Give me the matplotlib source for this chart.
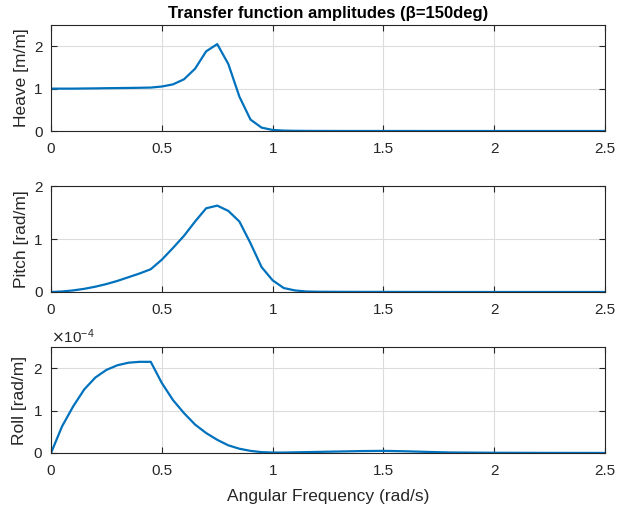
import numpy as np
import matplotlib
matplotlib.use("Agg")
import matplotlib.pyplot as plt

plt.rcParams['font.family'] = ['Liberation Sans', 'DejaVu Sans']

# angular frequency (rad/s)
w = [0, 0.05, 0.1, 0.15, 0.2, 0.25, 0.3, 0.35, 0.4, 0.45, 0.5, 0.55, 0.6, 0.65,
     0.7, 0.75, 0.8, 0.85, 0.9, 0.95, 1.0, 1.05, 1.1, 1.15, 1.2, 1.3, 1.4, 1.5,
     1.6, 1.7, 1.8, 2.0, 2.25, 2.5]
heave = [1.0, 1.0, 1.0, 1.003, 1.006, 1.01, 1.013, 1.016, 1.02, 1.025, 1.05, 1.10,
         1.22, 1.47, 1.88, 2.05, 1.58, 0.81, 0.27, 0.08, 0.025, 0.01, 0.005, 0.003,
         0.002, 0.001, 0.001, 0.001, 0.001, 0, 0, 0, 0, 0]
pitch = [0, 0.01, 0.03, 0.06, 0.10, 0.15, 0.21, 0.28, 0.35, 0.43, 0.61, 0.83, 1.06,
         1.33, 1.58, 1.63, 1.53, 1.33, 0.92, 0.47, 0.22, 0.075, 0.03, 0.01, 0.005,
         0.003, 0.002, 0.002, 0.001, 0.001, 0, 0, 0, 0]
roll = [0, 0.63e-4, 1.1e-4, 1.5e-4, 1.78e-4, 1.96e-4, 2.07e-4, 2.13e-4, 2.15e-4,
        2.15e-4, 1.65e-4, 1.25e-4, 0.94e-4, 0.67e-4, 0.47e-4, 0.31e-4, 0.18e-4,
        0.10e-4, 0.05e-4, 0.02e-4, 0.01e-4, 0.01e-4, 0.015e-4, 0.02e-4, 0.025e-4,
        0.035e-4, 0.045e-4, 0.05e-4, 0.04e-4, 0.025e-4, 0.012e-4, 0.005e-4,
        0.002e-4, 0.001e-4]

xticks = [0, 0.5, 1, 1.5, 2, 2.5]
xtick_labels = ['0', '0.5', '1', '1.5', '2', '2.5']

fig = plt.figure(figsize=(6.17, 5.13), dpi=100)
left, width, height = 0.0827, 0.898, 0.2066
bottoms = [0.7446, 0.4308, 0.117]
ylabels = ['Heave [m/m]', 'Pitch [rad/m]', 'Roll [rad/m]']
series = [heave, pitch, roll]
ylims = [(0, 2.5), (0, 2), (0, 2.5e-4)]
yticks = [[0, 1, 2], [0, 1, 2], [0, 1e-4, 2e-4]]

axes = []
for i in range(3):
    ax = fig.add_axes([left, bottoms[i], width, height])
    ax.plot(w, series[i], color='#0072BD', lw=1.6)
    ax.set_xlim(0, 2.5)
    ax.set_ylim(*ylims[i])
    ax.set_xticks(xticks)
    ax.set_xticklabels(xtick_labels)
    ax.set_yticks(yticks[i])
    ax.set_ylabel(ylabels[i], fontsize=12.5, color='#262626', labelpad=4)
    ax.grid(True, color='#dcdcdc', lw=0.8)
    ax.tick_params(direction='in', top=True, right=True, labelsize=11,
                   colors='#262626', length=4, width=0.8, pad=6)
    ax.tick_params(axis='x', pad=8)
    for s in ax.spines.values():
        s.set_color('#262626')
        s.set_linewidth(0.8)
    axes.append(ax)

axes[2].ticklabel_format(axis='y', style='sci', scilimits=(0, 0), useMathText=True)
axes[2].yaxis.get_offset_text().set_fontsize(11)
axes[2].set_xlabel('Angular Frequency (rad/s)', fontsize=12.5, color='#262626',
                   labelpad=8)
axes[0].set_title('Transfer function amplitudes (β=150deg)', fontsize=12,
                  fontweight='bold', pad=5)

fig.savefig('out.png', dpi=100)
